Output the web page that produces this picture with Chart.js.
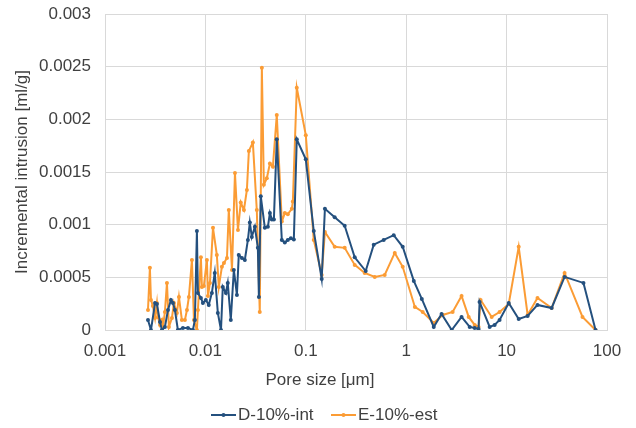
<!DOCTYPE html>
<html>
<head>
<meta charset="utf-8">
<script src="https://cdn.jsdelivr.net/npm/chart.js@4"></script>
<style>
  html, body { margin: 0; padding: 0; background: #fff; }
  #wrap { width: 636px; height: 428px; }
</style>
</head>
<body>
<div id="wrap"><canvas id="poreChart" width="636" height="428"></canvas></div>
<script>
// pore size [um] and incremental intrusion [ml/g] for each sample
const dPore = [0.00268, 0.00287, 0.00315, 0.00329, 0.00353, 0.00369, 0.00395, 0.00424, 0.00454, 0.00475,
    0.00497, 0.00532, 0.00597, 0.00670, 0.00751, 0.00786, 0.00823, 0.00842, 0.00902, 0.00944,
    0.0101, 0.0108, 0.0116, 0.0124, 0.0133, 0.0143, 0.0149, 0.0160, 0.0167, 0.0179,
    0.0192, 0.0206, 0.0215, 0.0231, 0.0247, 0.0265, 0.0277, 0.0290, 0.0311, 0.0333,
    0.0341, 0.0356, 0.0391, 0.0419, 0.0439, 0.0459, 0.0481, 0.0514, 0.0577, 0.0618,
    0.0662, 0.0710, 0.0760, 0.0813, 0.100, 0.120, 0.144, 0.155, 0.194, 0.244,
    0.307, 0.395, 0.475, 0.597, 0.751, 0.923, 1.19, 1.43, 1.88, 2.25,
    2.84, 3.56, 4.29, 4.81, 5.26, 5.38, 6.78, 7.60, 8.51, 10.5,
    13.2, 16.2, 20.3, 28.1, 37.8, 58.3, 76.9];
const dIntr = [0.000095, 0, 0.000256, 0.000247, 0.000076, 0, 0.000029, 0.00019, 0.000285, 0.000256,
    0.00019, 0, 0.00002, 0.00002, 0, 0.000095, 0.00094, 0.000352, 0.000304, 0.000256,
    0.000285, 0.000238, 0.000352, 0.000542, 0.000162, 0, 0.000409, 0.000352, 0.000447, 0.000095,
    0.00057, 0.000333, 0.000713, 0.000684, 0.000665, 0.000855, 0.00102, 0.000884, 0.00098, 0.00078,
    0.000314, 0.00127, 0.00097, 0.00098, 0.00111, 0.00105, 0.00105, 0.00181, 0.000855, 0.00083,
    0.000855, 0.00087, 0.00086, 0.00181, 0.00162, 0.00094, 0.000485, 0.00115, 0.00107, 0.00099,
    0.00069, 0.00056, 0.00081, 0.000855, 0.0009, 0.00079, 0.000466, 0.000295, 0.000029, 0.000152,
    0, 0.000124, 0.000029, 0.00002, 0.00001, 0.000266, 0.000029, 0.000048, 0.000095, 0.000257,
    0.000105, 0.000133, 0.000238, 0.000209, 0.000504, 0.000447, 0];

const ePore = [0.00268, 0.00280, 0.00287, 0.00300, 0.00315, 0.00329, 0.00337, 0.00353, 0.00369, 0.00378,
    0.00395, 0.00414, 0.00433, 0.00464, 0.00486, 0.00520, 0.00545, 0.00583, 0.00625, 0.00655,
    0.00685, 0.00734, 0.00769, 0.00823, 0.00842, 0.00902, 0.00923, 0.00966, 0.01035, 0.0106,
    0.0111, 0.0119, 0.0130, 0.0136, 0.0146, 0.0153, 0.0164, 0.0171, 0.0184, 0.0197,
    0.0211, 0.0225, 0.0242, 0.0259, 0.0271, 0.0297, 0.0325, 0.0348, 0.0365, 0.0382,
    0.0409, 0.0439, 0.0470, 0.0514, 0.0577, 0.0618, 0.0662, 0.0726, 0.0743, 0.0813,
    0.100, 0.120, 0.144, 0.155, 0.194, 0.244, 0.307, 0.386, 0.486, 0.611,
    0.769, 0.923, 1.22, 1.46, 1.88, 2.31, 2.90, 3.56, 4.19, 4.81,
    5.26, 5.51, 7.10, 8.51, 10.5, 13.2, 16.2, 20.3, 28.1, 37.8,
    57.0, 76.9];
const eIntr = [0.00019, 0.00059, 0.000285, 0.000228, 0.000114, 0.000256, 0.000124, 0.000048, 0.000095, 0.000029,
    0.000171, 0.000447, 0.000029, 0.000114, 0.000256, 0.000162, 0.000314, 0.000095, 0.000095, 0.00019,
    0.000314, 0.000665, 0.000095, 0, 0.00019, 0.00069, 0.000409, 0.000418, 0.000665, 0.000323,
    0.000447, 0.00097, 0.000713, 0.000409, 0.0006, 0.000637, 0.000684, 0.00114, 0.00057, 0.00149,
    0.00095, 0.00121, 0.00114, 0.00133, 0.0017, 0.00178, 0.00114, 0.000171, 0.00249, 0.00138,
    0.00144, 0.00158, 0.00155, 0.00204, 0.00103, 0.00111, 0.0011, 0.00115, 0.00122, 0.0023,
    0.00185, 0.000855, 0.000523, 0.00093, 0.00079, 0.00078, 0.000618, 0.000542, 0.000504, 0.000523,
    0.000732, 0.0006, 0.000219, 0.000171, 0.000067, 0.000143, 0.000171, 0.000323, 0.000124, 0.000048,
    0.000029, 0.000285, 0.000124, 0.000171, 0.000247, 0.00079, 0.000143, 0.000304, 0.000209, 0.000542,
    0.000124, 0];

const xTicks = [0.001, 0.01, 0.1, 1, 10, 100];
const xTickLabels = ['0.001', '0.01', '0.1', '1', '10', '100'];
const yTickLabels = ['0', '0.0005', '0.001', '0.0015', '0.002', '0.0025', '0.003'];

const BLUE = '#24507e';
const ORANGE = '#fb9c35';
const TEXT = '#404040';
const GRID = '#d9d9d9';
const FONT = '"Liberation Sans", Arial, sans-serif';

function toPoints(xs, ys) {
    return xs.map((x, i) => ({ x: x, y: ys[i] }));
}

function series(label, xs, ys, color) {
    return {
        label: label,
        data: toPoints(xs, ys),
        borderColor: color,
        backgroundColor: color,
        borderWidth: 2,
        pointRadius: 2,
        pointBorderWidth: 0,
        pointHoverRadius: 2,
        tension: 0,
        fill: false
    };
}

// x title and legend sit centred on the whole canvas, so draw them here
const bottomText = {
    id: 'bottomText',
    afterDraw(chart) {
        const c = chart.ctx;
        c.save();
        c.font = '17px ' + FONT;
        c.fillStyle = TEXT;
        c.textBaseline = 'middle';
        c.textAlign = 'center';
        c.fillText('Pore size [\u03bcm]', 320, 380);

        c.textAlign = 'left';
        const starts = [211, 331];
        chart.data.datasets.forEach((ds, i) => {
            const x0 = starts[i], y = 415;
            c.strokeStyle = ds.borderColor;
            c.lineWidth = 2;
            c.beginPath();
            c.moveTo(x0, y);
            c.lineTo(x0 + 25, y);
            c.stroke();
            c.fillStyle = ds.borderColor;
            c.beginPath();
            c.arc(x0 + 12.5, y, 2, 0, Math.PI * 2);
            c.fill();
            c.fillStyle = TEXT;
            c.fillText(ds.label, x0 + 27, y);
        });
        c.restore();
    }
};

Chart.defaults.font.family = FONT;
Chart.defaults.font.size = 17;
Chart.defaults.color = TEXT;

const ctx = document.getElementById('poreChart').getContext('2d');
const poreChart = new Chart(ctx, {
    type: 'line',
    data: {
        datasets: [
            series('D-10%-int', dPore, dIntr, BLUE),
            series('E-10%-est', ePore, eIntr, ORANGE)
        ]
    },
    options: {
        responsive: false,
        animation: false,
        layout: { padding: { left: 12, right: 29, top: 14, bottom: 0 } },
        plugins: {
            legend: { display: false },
            tooltip: { enabled: false }
        },
        scales: {
            x: {
                type: 'logarithmic',
                min: 0.001,
                max: 100,
                afterBuildTicks: (scale) => { scale.ticks = xTicks.map(v => ({ value: v })); },
                afterFit: (scale) => {
                    scale.height = 98;
                    scale.paddingLeft = 0;
                    scale.paddingRight = 0;
                },
                ticks: {
                    padding: 11,
                    autoSkip: false,
                    maxRotation: 0,
                    callback: (value) => xTickLabels[xTicks.indexOf(value)]
                },
                grid: { color: GRID, drawTicks: false },
                border: { color: GRID }
            },
            y: {
                min: 0,
                max: 0.003,
                afterBuildTicks: (scale) => { scale.ticks = yTickLabels.map(t => ({ value: parseFloat(t) })); },
                afterFit: (scale) => {
                    scale.width = 93;
                    scale.paddingTop = 0;
                    scale.paddingBottom = 0;
                },
                ticks: {
                    padding: 14,
                    callback: (value, i) => yTickLabels[i]
                },
                grid: { color: GRID, drawTicks: false },
                border: { color: GRID },
                title: {
                    display: true,
                    text: 'Incremental intrusion [ml/g]',
                    padding: { top: 0, bottom: 0 }
                }
            }
        }
    },
    plugins: [bottomText]
});
</script>
</body>
</html>
